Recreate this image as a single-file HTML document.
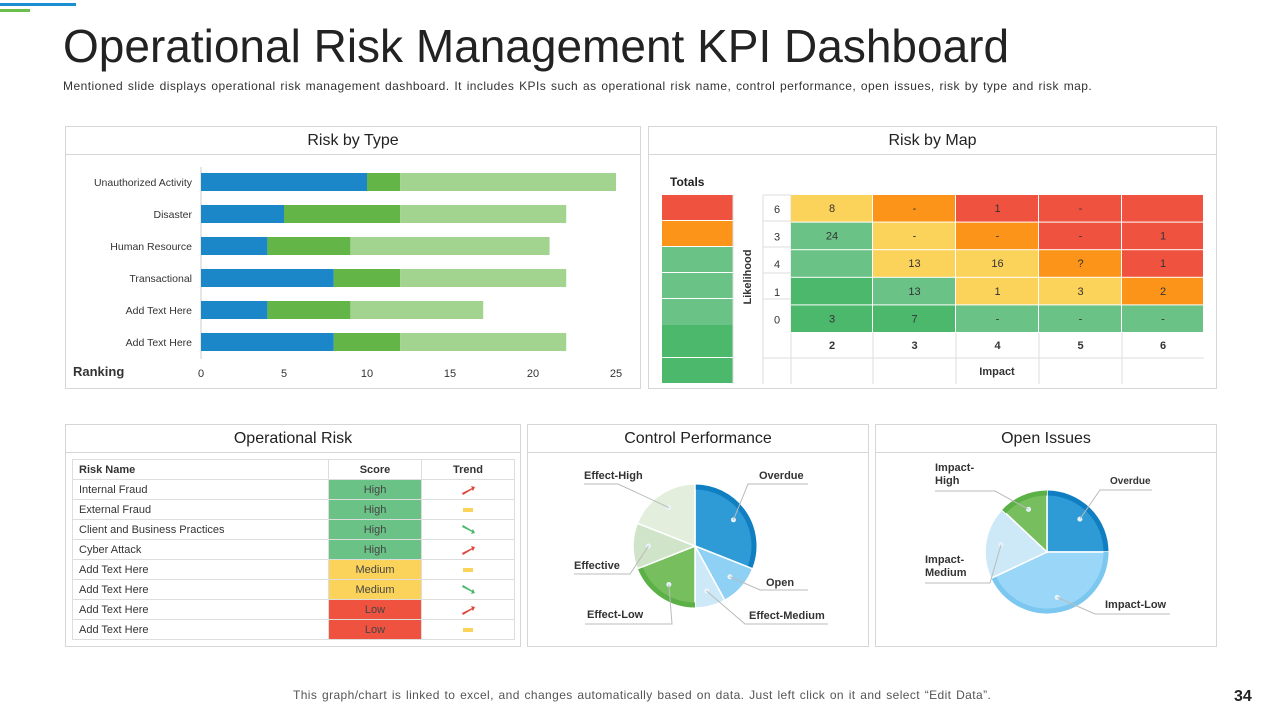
<!DOCTYPE html>
<html><head><meta charset="utf-8">
<style>
*{margin:0;padding:0;box-sizing:border-box}
body{width:1280px;height:720px;background:#fff;font-family:"Liberation Sans",sans-serif;position:relative;overflow:hidden;color:#222}
.abs{position:absolute}
.panel{position:absolute;border:1px solid #d6d6d6;background:#fff}
.ptitle{position:absolute;left:0;right:0;top:0;height:28px;border-bottom:1px solid #d6d6d6;text-align:center;font-size:16px;line-height:28px;color:#222}
table{border-collapse:collapse;font-size:11px}
td{border:1px solid #ddd;height:20px;padding:0 6px;color:#333}
</style></head><body>
<div class="abs" style="left:0;top:3px;width:76px;height:3px;background:#1b8fd2"></div>
<div class="abs" style="left:0;top:9px;width:30px;height:3px;background:#6cbf4b"></div>
<div class="abs" style="left:63px;top:19px;font-size:46px;color:#222">Operational Risk Management KPI Dashboard</div>
<div class="abs" style="left:63px;top:79px;font-size:12px;letter-spacing:0.45px;word-spacing:1px;color:#333">Mentioned slide displays operational risk management dashboard. It includes KPIs such as operational risk name, control performance, open issues, risk by type and risk map.</div>

<div class="panel" style="left:65px;top:126px;width:576px;height:263px">
<div class="ptitle">Risk by Type</div>
<svg id="barsvg" width="576" height="263" style="position:absolute;left:0;top:0"></svg>
</div>

<div class="panel" style="left:648px;top:126px;width:569px;height:263px">
<div class="ptitle">Risk by Map</div>
<svg id="mapsvg" width="569" height="263" style="position:absolute;left:0;top:0"></svg>
</div>

<div class="panel" style="left:65px;top:424px;width:456px;height:223px">
<div class="ptitle">Operational Risk</div>
<table id="rtable" style="position:absolute;left:6px;top:34px;width:443px">
<tr><td style="width:256px;font-weight:bold">Risk Name</td><td style="width:93px;text-align:center;font-weight:bold">Score</td><td style="text-align:center;font-weight:bold">Trend</td></tr>
</table>
</div>

<div class="panel" style="left:527px;top:424px;width:342px;height:223px">
<div class="ptitle">Control Performance</div>
</div>
<div class="panel" style="left:875px;top:424px;width:342px;height:223px">
<div class="ptitle">Open Issues</div>
</div>
<svg id="piesvg" width="1280" height="720" style="position:absolute;left:0;top:0;pointer-events:none"></svg>

<div class="abs" style="left:293px;top:688px;font-size:12px;letter-spacing:0.4px;word-spacing:1px;color:#555">This graph/chart is linked to excel, and changes automatically based on data. Just left click on it and select “Edit Data”.</div>
<div class="abs" style="left:1234px;top:688px;font-size:16px;font-weight:bold;color:#222">34</div>

<script>
const NS="http://www.w3.org/2000/svg";
function mk(p,tag,attrs,txt){const e=document.createElementNS(NS,tag);for(const k in attrs)e.setAttribute(k,attrs[k]);if(txt!==undefined)e.textContent=txt;p.appendChild(e);return e;}

// ---- Risk by Type data ----
const barCats=["Unauthorized Activity","Disaster","Human Resource","Transactional","Add Text Here","Add Text Here"];
const seriesA=[10,5,4,8,4,8];
const seriesB=[2,7,5,4,5,4];
const seriesC=[13,10,12,10,8,10];
const xTicks=[0,5,10,15,20,25];
const barColors=["#1b87c9","#62b546","#a3d48f"];
(function(){
 const s=document.getElementById('barsvg');
 const x0=135,x1=550,xmax=25;const xs=v=>x0+(v/xmax)*(x1-x0);
 const y0=55,step=32,bh=18;
 mk(s,'line',{x1:x0,y1:40,x2:x0,y2:232,stroke:'#ccc'});
 xTicks.forEach(t=>{const el=mk(s,'text',{x:xs(t),y:250,'font-size':11,'text-anchor':'middle',fill:'#333'},t);
  });
 const ax=mk(s,'text',{x:7,y:249,'font-size':13,'font-weight':'bold',fill:'#333'},'Ranking');
 
 barCats.forEach((c,i)=>{const yc=y0+i*step;
  const l=mk(s,'text',{x:x0-9,y:yc+4,'font-size':10.5,'text-anchor':'end',fill:'#333'},c);
  
  let acc=0;[seriesA,seriesB,seriesC].forEach((ser,k)=>{const v=ser[i];
   const r=mk(s,'rect',{x:xs(acc),y:yc-bh/2,width:xs(acc+v)-xs(acc),height:bh,fill:barColors[k]});
   acc+=v;});
 });
})();

// ---- Risk map data ----
const likelihood=["6","3","4","1","0"];
const impact=["2","3","4","5","6"];
const cellValues=[["8","-","1","-",""],["24","-","-","-","1"],["","13","16","?","1"],["","13","1","3","2"],["3","7","-","-","-"]];
const cellLevels=[[2,1,0,0,0],[3,2,1,0,0],[3,2,2,1,0],[4,3,2,2,1],[4,4,3,3,3]];
const totalLevels=[0,1,3,3,3,4,4];
const levelColors=["#ef5340","#fb9418","#fcd35a","#6bc287","#4cb86b"];
(function(){
 const s=document.getElementById('mapsvg');
 const tt=mk(s,'text',{x:21,y:59,'font-size':12,'font-weight':'bold',fill:'#222'},'Totals');
 
 const rowY=[68,94,120,146,172,206,231,257];
 totalLevels.forEach((lv,i)=>{const r=mk(s,'rect',{x:13,y:rowY[i]-(i==5?8:0),width:71,height:(rowY[i+1]-rowY[i])-1+(i==5?8:0),fill:levelColors[lv]});
  });
 const cx=[142,224,307,390,473,555];
 [84,114,142].forEach(x=>mk(s,'line',{x1:x,y1:68,x2:x,y2:257,stroke:'#ddd'}));
 for(let j=1;j<5;j++)mk(s,'line',{x1:cx[j],y1:206,x2:cx[j],y2:257,stroke:'#ddd'});
 mk(s,'line',{x1:114,y1:231,x2:555,y2:231,stroke:'#ddd'});
 for(let i=0;i<5;i++)mk(s,'line',{x1:114,y1:rowY[i],x2:142,y2:rowY[i],stroke:'#ddd'});
 likelihood.forEach((l,i)=>{const y0=68+i*27.6;
  mk(s,'text',{x:128,y:y0+18,'font-size':11,'text-anchor':'middle',fill:'#333'},l);
  impact.forEach((_,j)=>{const r=mk(s,'rect',{x:cx[j],y:y0,width:cx[j+1]-cx[j]-1,height:26.6,fill:levelColors[cellLevels[i][j]]});
   
   mk(s,'text',{x:(cx[j]+cx[j+1])/2,y:y0+17,'font-size':11,'text-anchor':'middle',fill:'#333'},cellValues[i][j]);});
 });
 impact.forEach((m,j)=>{const t=mk(s,'text',{x:(cx[j]+cx[j+1])/2,y:222,'font-size':11,'font-weight':'bold','text-anchor':'middle',fill:'#333'},m);
  });
 const it=mk(s,'text',{x:348,y:248,'font-size':11,'font-weight':'bold','text-anchor':'middle',fill:'#333'},'Impact');
 
 const lt=mk(s,'text',{x:0,y:0,'font-size':11,'font-weight':'bold','text-anchor':'middle',fill:'#333',transform:'translate(102,150) rotate(-90)'},'Likelihood');
 
})();

// ---- Operational risk table ----
const riskNames=["Internal Fraud","External Fraud","Client and Business Practices","Cyber Attack","Add Text Here","Add Text Here","Add Text Here","Add Text Here"];
const riskScores=["High","High","High","High","Medium","Medium","Low","Low"];
const riskTrends=["up","flat","down","up","flat","down","up","flat"];
(function(){
 const t=document.getElementById('rtable');
 const sc={High:"#6bc287",Medium:"#fcd35a",Low:"#ef5340"};
 const tr={up:'<svg width="16" height="10"><path d="M2 8 L12 3 L11 1 L15 2 L13 6 L12 4.5 L3 10Z" fill="#e0463c"/></svg>',
  flat:'<svg width="16" height="10"><rect x="3" y="3" width="10" height="4" fill="#fcd35a"/></svg>',
  down:'<svg width="16" height="10"><path d="M2 2 L12 7 L11 9 L15 8 L13 4 L12 5.5 L3 0Z" fill="#4cb86b"/></svg>'};
 riskNames.forEach((n,i)=>{const r=document.createElement('tr');
  
  
  r.innerHTML='<td>'+n+'</td><td style="text-align:center;background:'+sc[riskScores[i]]+';color:#444">'+riskScores[i]+'</td><td style="text-align:center;line-height:0">'+tr[riskTrends[i]]+'</td>';
  t.appendChild(r);});
})();

// ---- Pies ----
const cpLabels=["Overdue","Open","Effect-Medium","Effect-Low","Effective","Effect-High"];
const cpValues=[31,11,8,19,12,19];
const oiLabels=["Overdue","Impact-Low","Impact-Medium","Impact-High"];
const oiValues=[25,43,19,13];
(function(){
 const s=document.getElementById('piesvg');
 function pie(cx,cy,r,vals,cols,rims,labels,lpos,name){
  const tot=vals.reduce((a,b)=>a+b,0);let a=0;
  vals.forEach((v,i)=>{const a0=a/tot*2*Math.PI,a1=(a+v)/tot*2*Math.PI;a+=v;
   const P=(ang,rr)=>[cx+rr*Math.sin(ang),cy-rr*Math.cos(ang)];
   const [x0,y0]=P(a0,r),[x1,y1]=P(a1,r);const lg=(a1-a0)>Math.PI?1:0;
   const p=mk(s,'path',{d:`M${cx} ${cy}L${x0} ${y0}A${r} ${r} 0 ${lg} 1 ${x1} ${y1}Z`,fill:cols[i],stroke:'#fff','stroke-width':1.5});
   
   if(rims[i]){const [u0,v0]=P(a0,r-3),[u1,v1]=P(a1,r-3);
    mk(s,'path',{d:`M${u0} ${v0}A${r-3} ${r-3} 0 ${lg} 1 ${u1} ${v1}`,fill:'none',stroke:rims[i],'stroke-width':5});}
   const am=(a0+a1)/2;const [dx,dy]=P(am,r*0.75);
   mk(s,'circle',{cx:dx,cy:dy,r:2.5,fill:'#e8f3fb'});
   const L=lpos[i];
   mk(s,'polyline',{points:`${dx},${dy} ${L[2]},${L[3]} ${L[4]},${L[3]}`,fill:'none',stroke:'#bbb','stroke-width':1});
   const lines=labels[i].split('|');
   lines.forEach((ln,k)=>{const t=mk(s,'text',{x:L[0],y:L[1]+k*13,'font-size':L[5]||11,'font-weight':'bold',fill:'#333'},ln);
    });
  });
 }
 pie(695,546,62,cpValues,["#2e9ad6","#8fd0f5","#cde9f8","#77be5f","#cfe4c8","#e3eedd"],["#0f7fc2",null,null,"#5bb046",null,null],
  cpLabels,
  [[759,479,748,484,808],[766,586,760,590,808],[749,619,745,624,828],[587,618,672,624,585],[574,569,630,574,574],[584,479,618,484,584]],'control-pie');
 pie(1047,552,62,oiValues,["#2e9ad6","#9ad6f8","#cde9f8","#77be5f"],["#0f7fc2","#7cc7f0",null,"#5bb046"],
  ["Overdue","Impact-Low","Impact-|Medium","Impact-|High"],
  [[1110,484,1100,490,1152,10],[1105,608,1095,614,1170],[925,563,990,583,925],[935,471,995,491,935]],'open-issues-pie');
})();
</script>
</body></html>
